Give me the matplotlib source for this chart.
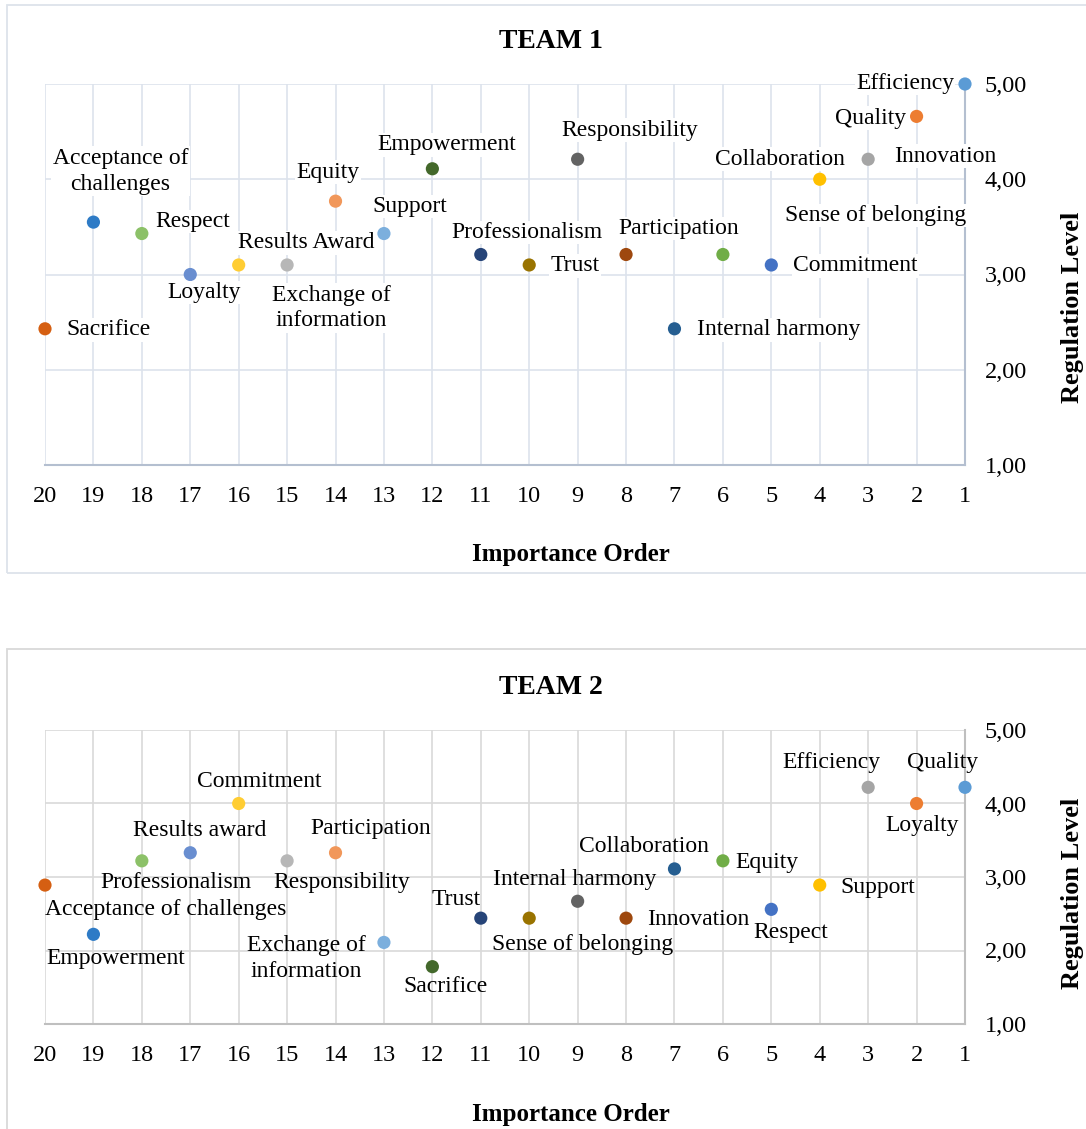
import matplotlib
matplotlib.use("Agg")
import matplotlib.pyplot as plt
from matplotlib.patches import Rectangle
from matplotlib.ticker import FuncFormatter

plt.rcParams['font.family'] = ['Liberation Serif', 'DejaVu Serif']

# -----------------------------
# 1. Daten (Rang 1..20)
# -----------------------------
ranks = list(range(1, 21))

team1_labels = ["Efficiency", "Quality", "Innovation", "Collaboration", "Commitment",
                "Participation", "Internal harmony", "Sense of belonging", "Responsibility", "Trust",
                "Professionalism", "Empowerment", "Support", "Equity", "Exchange of\ninformation",
                "Results Award", "Loyalty", "Respect", "Acceptance of\nchallenges", "Sacrifice"]
team1_values = [5.00, 4.66, 4.21, 4.00, 3.10, 3.21, 2.43, 3.21, 4.21, 3.10,
                3.21, 4.11, 3.43, 3.77, 3.10, 3.10, 3.00, 3.43, 3.55, 2.43]

team2_labels = ["Quality", "Loyalty", "Efficiency", "Support", "Respect",
                "Equity", "Collaboration", "Innovation", "Internal harmony", "Sense of belonging",
                "Trust", "Sacrifice", "Exchange of\ninformation", "Participation", "Responsibility",
                "Commitment", "Results award", "Professionalism", "Empowerment", "Acceptance of challenges"]
team2_values = [4.22, 4.00, 4.22, 2.89, 2.56, 3.22, 3.11, 2.44, 2.67, 2.44,
                2.44, 1.78, 2.11, 3.33, 3.22, 4.00, 3.33, 3.22, 2.22, 2.89]

y_ticks = [1, 2, 3, 4, 5]

# Farben je Rang (Excel-Palette)
colors = ["#5B9BD5", "#ED7D31", "#A5A5A5", "#FFC000", "#4472C4", "#70AD47",
          "#255E91", "#9E480E", "#636363", "#997300", "#264478", "#43682B",
          "#7CAFDD", "#F1975A", "#B7B7B7", "#FFCD33", "#698ED0", "#8CC168",
          "#2E7BC6", "#D55F12"]

# Label-Versatz in Pixeln (dx, dy nach unten positiv)
team1_offsets = [(-60, -1), (-46, 2), (77, -3), (-40, -20), (84, 1),
                 (-44, -26), (104, 1), (250, -39), (52, -29), (46, 1),
                 (46, -22), (14, -24), (26, -27), (-8, -29), (44, 43),
                 (68, -22), (14, 18), (51, -12), (27, -51), (63, 1)]
team2_offsets = [(-22, -25), (6, 22), (-37, -25), (58, 2), (19, 23),
                 (44, 2), (-31, -22), (72, 1), (-3, -22), (53, 26),
                 (-25, -19), (13, 20), (-78, 16), (35, -24), (55, 22),
                 (21, -22), (9, -22), (34, 22), (22, 24), (121, 24)]

W, H = 1086, 1129
fig = plt.figure(figsize=(W / 100, H / 100), dpi=100)


def fx(px):
    return px / W


def fy(py):
    return 1 - py / H


# -----------------------------
# 2. Panels zeichnen
# -----------------------------
def draw_panel(top, bottom, values, labels, offsets, grid_col, axis_col, frame_col,
               box_top, box_bottom, title, title_y, xlabel_y, ylabel_y, label_box):
    fig.add_artist(Rectangle((fx(7), fy(box_bottom)), fx(1200), fy(box_top) - fy(box_bottom),
                             transform=fig.transFigure, fill=False, edgecolor=frame_col, lw=1.3))
    ax = fig.add_axes([fx(45), fy(bottom), fx(920), fy(top) - fy(bottom)])
    ax.set_xlim(20, 1)
    ax.set_ylim(1, 5)
    ax.set_xticks(ranks)
    ax.set_yticks(y_ticks)
    ax.yaxis.tick_right()
    ax.yaxis.set_major_formatter(FuncFormatter(lambda v, p: f"{v:.2f}".replace(".", ",")))
    ax.tick_params(length=0, labelsize=17.5)
    ax.tick_params(axis="x", pad=15)
    ax.tick_params(axis="y", pad=14)
    ax.grid(True, color=grid_col, lw=1.2)
    ax.set_axisbelow(True)
    for s in ["top", "left"]:
        ax.spines[s].set_visible(False)
    for s in ["bottom", "right"]:
        ax.spines[s].set_color(axis_col)
        ax.spines[s].set_linewidth(1.5)

    ax.scatter(ranks, values, s=90, c=colors, edgecolors="none", zorder=3, clip_on=False)

    for r, v, lab, (dx, dy) in zip(ranks, values, labels, offsets):
        bbox = dict(facecolor="white", edgecolor="none", pad=1) if label_box else None
        ax.annotate(lab, (r, v), xytext=(dx, -dy), textcoords="offset pixels",
                    ha="center", va="center", fontsize=17, linespacing=1.3,
                    bbox=bbox, zorder=4, annotation_clip=False)

    fig.text(fx(551), fy(title_y), title, ha="center", va="center", fontsize=20, fontweight="bold")
    fig.text(fx(571), fy(xlabel_y), "Importance Order", ha="center", va="center",
             fontsize=18, fontweight="bold")
    fig.text(fx(1073), fy(ylabel_y), "Regulation Level", ha="center", va="center",
             rotation=90, fontsize=19, fontweight="bold")
    return ax


draw_panel(84, 465, team1_values, team1_labels, team1_offsets,
           "#DDE3EC", "#B4BFD0", "#DDE3EA", 5, 573, "TEAM 1", 42, 554, 307, True)
draw_panel(730, 1024, team2_values, team2_labels, team2_offsets,
           "#D9D9D9", "#BFBFBF", "#D9D9D9", 649, 1200, "TEAM 2", 688, 1115, 893, False)

fig.savefig("out.png", dpi=100)
